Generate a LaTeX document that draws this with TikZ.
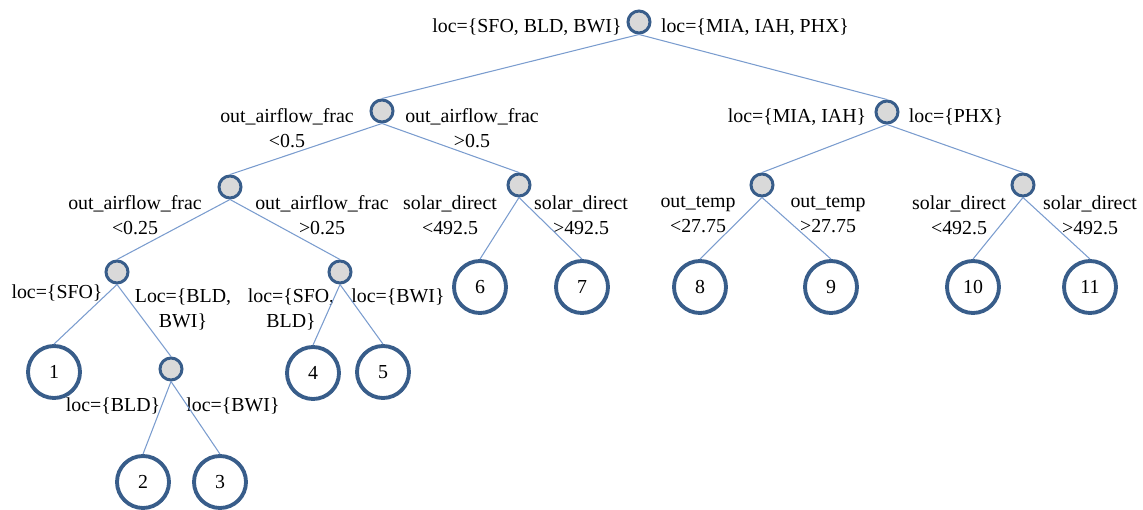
\documentclass[tikz,border=0pt]{standalone}
\usepackage{fontspec}
\setmainfont{Liberation Serif}
\definecolor{ringblue}{RGB}{56,93,138}
\definecolor{splitgray}{RGB}{217,217,217}
\definecolor{linkblue}{RGB}{122,156,206}
\begin{document}
\begin{tikzpicture}[x=0.02cm, y=-0.02cm,
    split/.style={circle, draw=ringblue, fill=splitgray, line width=1.7pt,
                  minimum size=0.44cm, inner sep=0pt},
    leaf/.style={circle, draw=ringblue, line width=2.2pt,
                 minimum size=1.04cm, inner sep=0pt},
    cond/.style={align=center, inner sep=0pt},
    branch/.style={draw=linkblue, line width=0.6pt}]
  \useasboundingbox (0, 0) rectangle (1143, 510);
  \fontsize{11.3}{14.2}\selectfont
  % decision nodes
  \draw (639, 22) node (r) [split] {}
        (382, 111) node (a) [split] {}
        (887, 112) node (b) [split] {}
        (230, 187) node (aa) [split] {}
        (519, 185) node (ab) [split] {}
        (762, 185) node (ba) [split] {}
        (1023, 185) node (bb) [split] {}
        (117, 272) node (aaa) [split] {}
        (340, 272) node (aab) [split] {}
        (171, 369) node (aaab) [split] {};
  % leaves
  \draw (54, 372) node (l1) [leaf] {1}
        (143, 482) node (l2) [leaf] {2}
        (220, 482) node (l3) [leaf] {3}
        (313, 373) node (l4) [leaf] {4}
        (383, 372) node (l5) [leaf] {5}
        (480, 287) node (l6) [leaf] {6}
        (582, 287) node (l7) [leaf] {7}
        (700, 287) node (l8) [leaf] {8}
        (831, 287) node (l9) [leaf] {9}
        (973, 287) node (l10) [leaf] {10}
        (1090, 287) node (l11) [leaf] {11};
  % split conditions
  \draw (527, 27) node (cr1) [cond] {loc=\{SFO, BLD, BWI\}}
        (755, 27) node (cr2) [cond] {loc=\{MIA, IAH, PHX\}}
        (287, 128) node (ca1) [cond] {out\_airflow\_frac\\<0.5}
        (472, 128) node (ca2) [cond] {out\_airflow\_frac\\>0.5}
        (797, 117) node (cb1) [cond] {loc=\{MIA, IAH\}}
        (956, 117) node (cb2) [cond] {loc=\{PHX\}}
        (135, 215) node (caa1) [cond] {out\_airflow\_frac\\<0.25}
        (322, 215) node (caa2) [cond] {out\_airflow\_frac\\>0.25}
        (450, 215) node (cab1) [cond] {solar\_direct\\<492.5}
        (581, 215) node (cab2) [cond] {solar\_direct\\>492.5}
        (698, 215) node (cba1) [cond] {out\_temp\\<27.75}
        (828, 215) node (cba2) [cond] {out\_temp\\>27.75}
        (959, 215) node (cbb1) [cond] {solar\_direct\\<492.5}
        (1090, 215) node (cbb2) [cond] {solar\_direct\\>492.5}
        (57, 293) node (caaa1) [cond] {loc=\{SFO\}}
        (183, 309) node (caaa2) [cond] {Loc=\{BLD,\\BWI\}}
        (291, 309) node (caab1) [cond] {loc=\{SFO,\\BLD\}}
        (398, 297) node (caab2) [cond] {loc=\{BWI\}}
        (113, 406) node (caaab1) [cond] {loc=\{BLD\}}
        (233, 406) node (caaab2) [cond] {loc=\{BWI\}};
  % branches
  \draw[branch] (r.south) edge (a.north) (r.south) edge (b.north)
                (a.south) edge (aa.north) (a.south) edge (ab.north)
                (b.south) edge (ba.north) (b.south) edge (bb.north)
                (aa.south) edge (aaa.north) (aa.south) edge (aab.north)
                (ab.south) edge (l6.north) (ab.south) edge (l7.north)
                (ba.south) edge (l8.north) (ba.south) edge (l9.north)
                (bb.south) edge (l10.north) (bb.south) edge (l11.north)
                (aaa.south) edge (l1.north) (aaa.south) edge (aaab.north)
                (aab.south) edge (l4.north) (aab.south) edge (l5.north)
                (aaab.south) edge (l2.north) (aaab.south) edge (l3.north);
\end{tikzpicture}
\end{document}
